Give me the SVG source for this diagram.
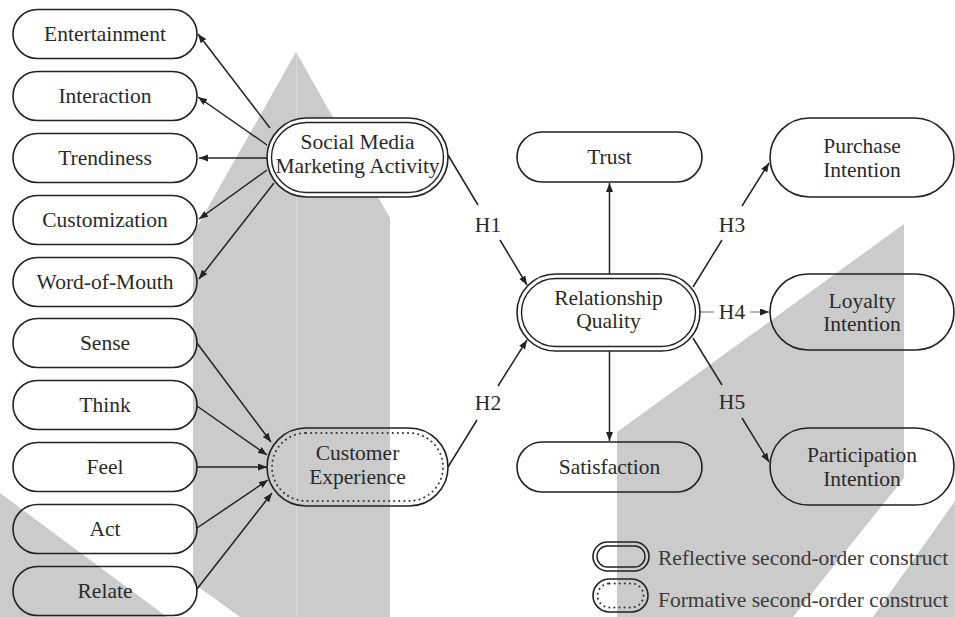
<svg xmlns="http://www.w3.org/2000/svg" width="955" height="617" viewBox="0 0 955 617">
  <style>
    .bg { fill: #ffffff; }
    .wm { fill: #cbcbcb; }
    .seam { stroke: #d8d8d8; stroke-width: 1; }
    .node { fill: none; stroke: #222; stroke-width: 1.6; }
    .solid { fill: #ffffff; stroke: #222; stroke-width: 1.6; }
    .inner { fill: none; stroke: #222; stroke-width: 1.4; }
    .dots { fill: none; stroke: #333; stroke-width: 2; stroke-dasharray: 0.1 5; stroke-linecap: round; }
    .t { font-family: "Liberation Serif", "Times New Roman", serif; font-size: 21.5px; fill: #2a2a2a; text-anchor: middle; }
    .lg { font-family: "Liberation Serif", "Times New Roman", serif; font-size: 21.5px; fill: #3a3a3a; }
    .edge { fill: none; stroke: #222; stroke-width: 1.5; }
    .faint { fill: none; stroke: #7a7a7a; stroke-width: 1.1; }
  </style>
  <defs>
    <marker id="arrow" markerUnits="userSpaceOnUse" markerWidth="10" markerHeight="8" refX="9" refY="3.5" orient="auto">
      <path d="M0,0 L9,3.5 L0,7 z" fill="#222"/>
    </marker>
  </defs>

  <rect class="bg" x="0" y="0" width="955" height="617"/>

  <!-- background grey shapes -->
  <g id="backdrop">
    <polygon class="wm" points="296,52 390,218 390,617 240,617 193,583 193,234"/>
    <line class="seam" x1="296.5" y1="54" x2="296.5" y2="617"/>
    <polygon class="wm" points="0,493 167,617 0,617"/>
    <polygon class="wm" points="617,432 904,224 904,478 793,617 617,617"/>
    <polygon class="wm" points="955,501 955,617 873,617"/>
  </g>

  <!-- connectors -->
  <g id="connectors">
    <line class="edge" x1="270" y1="128" x2="198" y2="34" marker-end="url(#arrow)"/>
    <line class="edge" x1="267" y1="145" x2="198" y2="97" marker-end="url(#arrow)"/>
    <line class="edge" x1="267" y1="158" x2="199" y2="158" marker-end="url(#arrow)"/>
    <line class="edge" x1="267" y1="170" x2="199" y2="219" marker-end="url(#arrow)"/>
    <line class="edge" x1="274" y1="183" x2="199" y2="279" marker-end="url(#arrow)"/>

    <line class="edge" x1="197" y1="343" x2="271" y2="442" marker-end="url(#arrow)"/>
    <line class="edge" x1="197" y1="406" x2="267" y2="455" marker-end="url(#arrow)"/>
    <line class="edge" x1="197" y1="467" x2="267" y2="467" marker-end="url(#arrow)"/>
    <line class="edge" x1="197" y1="528" x2="268" y2="480" marker-end="url(#arrow)"/>
    <line class="edge" x1="197" y1="589" x2="272" y2="493" marker-end="url(#arrow)"/>

    <!-- H1 -->
    <line class="edge" x1="448" y1="155" x2="478" y2="205"/>
    <line class="edge" x1="500" y1="240" x2="527" y2="285" marker-end="url(#arrow)"/>
    <!-- H2 -->
    <line class="edge" x1="448" y1="467" x2="477" y2="420"/>
    <line class="edge" x1="498" y1="386" x2="527" y2="340" marker-end="url(#arrow)"/>
    <!-- RQ to Trust / Satisfaction -->
    <line class="edge" x1="609.5" y1="274" x2="609.5" y2="183" marker-end="url(#arrow)"/>
    <line class="edge" x1="609.5" y1="351" x2="609.5" y2="441" marker-end="url(#arrow)"/>
    <!-- H3 -->
    <line class="edge" x1="693" y1="287" x2="722" y2="240"/>
    <line class="edge" x1="742" y1="206" x2="769" y2="163" marker-end="url(#arrow)"/>
    <!-- H4 -->
    <line class="faint" x1="700" y1="312" x2="714" y2="312"/>
    <line class="faint" x1="750" y1="312" x2="769" y2="312" marker-end="url(#arrow)"/>
    <!-- H5 -->
    <line class="edge" x1="693" y1="338" x2="722" y2="385"/>
    <line class="edge" x1="742" y1="418" x2="769" y2="462" marker-end="url(#arrow)"/>

    <text class="t" x="488" y="232">H1</text>
    <text class="t" x="488" y="410">H2</text>
    <text class="t" x="732" y="232">H3</text>
    <text class="t" x="732" y="319">H4</text>
    <text class="t" x="732" y="409">H5</text>
  </g>

  <!-- first-order constructs, left column -->
  <g id="entertainment">
    <rect class="node" x="13" y="9.5" width="184" height="49" rx="24.5"/>
    <text class="t" x="105" y="41">Entertainment</text>
  </g>
  <g id="interaction">
    <rect class="node" x="13" y="71.5" width="184" height="49" rx="24.5"/>
    <text class="t" x="105" y="103">Interaction</text>
  </g>
  <g id="trendiness">
    <rect class="node" x="13" y="133.5" width="184" height="49" rx="24.5"/>
    <text class="t" x="105" y="165">Trendiness</text>
  </g>
  <g id="customization">
    <rect class="node" x="13" y="195.5" width="184" height="49" rx="24.5"/>
    <text class="t" x="105" y="227">Customization</text>
  </g>
  <g id="word-of-mouth">
    <rect class="node" x="13" y="257.5" width="184" height="49" rx="24.5"/>
    <text class="t" x="105" y="289">Word-of-Mouth</text>
  </g>
  <g id="sense">
    <rect class="node" x="13" y="318.5" width="184" height="49" rx="24.5"/>
    <text class="t" x="105" y="350">Sense</text>
  </g>
  <g id="think">
    <rect class="node" x="13" y="380.5" width="184" height="49" rx="24.5"/>
    <text class="t" x="105" y="412">Think</text>
  </g>
  <g id="feel">
    <rect class="node" x="13" y="442.5" width="184" height="49" rx="24.5"/>
    <text class="t" x="105" y="474">Feel</text>
  </g>
  <g id="act">
    <rect class="node" x="13" y="504.5" width="184" height="49" rx="24.5"/>
    <text class="t" x="105" y="536">Act</text>
  </g>
  <g id="relate">
    <rect class="node" x="13" y="566.5" width="184" height="49" rx="24.5"/>
    <text class="t" x="105" y="598">Relate</text>
  </g>

  <!-- second-order constructs -->
  <g id="smma">
    <rect class="solid" x="267" y="118" width="181" height="79" rx="39.5"/>
    <rect class="inner" x="271.5" y="122.5" width="172" height="70" rx="35"/>
    <text class="t" x="357.5" y="149">Social Media</text>
    <text class="t" x="357.5" y="173">Marketing Activity</text>
  </g>
  <g id="customer-experience">
    <rect class="node" x="267" y="428" width="181" height="78" rx="39"/>
    <rect class="dots" x="272" y="433" width="171" height="68" rx="34"/>
    <text class="t" x="357.5" y="460">Customer</text>
    <text class="t" x="357.5" y="484">Experience</text>
  </g>
  <g id="relationship-quality">
    <rect class="node" x="517" y="274" width="183" height="77" rx="38.5"/>
    <rect class="inner" x="521.5" y="278.5" width="174" height="68" rx="34"/>
    <text class="t" x="608.5" y="305">Relationship</text>
    <text class="t" x="608.5" y="328">Quality</text>
  </g>

  <!-- relationship quality dimensions -->
  <g id="trust">
    <rect class="node" x="517" y="132" width="185" height="50" rx="25"/>
    <text class="t" x="609.5" y="164">Trust</text>
  </g>
  <g id="satisfaction">
    <rect class="node" x="517" y="442" width="185" height="50" rx="25"/>
    <text class="t" x="609.5" y="474">Satisfaction</text>
  </g>

  <!-- outcomes -->
  <g id="purchase-intention">
    <rect class="node" x="770" y="118" width="184" height="79" rx="39.5"/>
    <text class="t" x="862" y="153">Purchase</text>
    <text class="t" x="862" y="177">Intention</text>
  </g>
  <g id="loyalty-intention">
    <rect class="node" x="770" y="274" width="184" height="76" rx="38"/>
    <text class="t" x="862" y="308">Loyalty</text>
    <text class="t" x="862" y="331">Intention</text>
  </g>
  <g id="participation-intention">
    <rect class="node" x="770" y="428" width="184" height="77" rx="38.5"/>
    <text class="t" x="862" y="462">Participation</text>
    <text class="t" x="862" y="486">Intention</text>
  </g>

  <!-- legend -->
  <g id="legend">
    <rect class="node" x="593" y="542" width="56" height="29" rx="14.5"/>
    <rect class="inner" x="597" y="546" width="48" height="21" rx="10.5"/>
    <text class="lg" x="658" y="565">Reflective second-order construct</text>
    <rect class="node" x="593" y="579" width="55" height="33" rx="16.5"/>
    <rect class="dots" x="597.5" y="583.5" width="46" height="24" rx="12"/>
    <text class="lg" x="658" y="607">Formative second-order construct</text>
  </g>
</svg>
